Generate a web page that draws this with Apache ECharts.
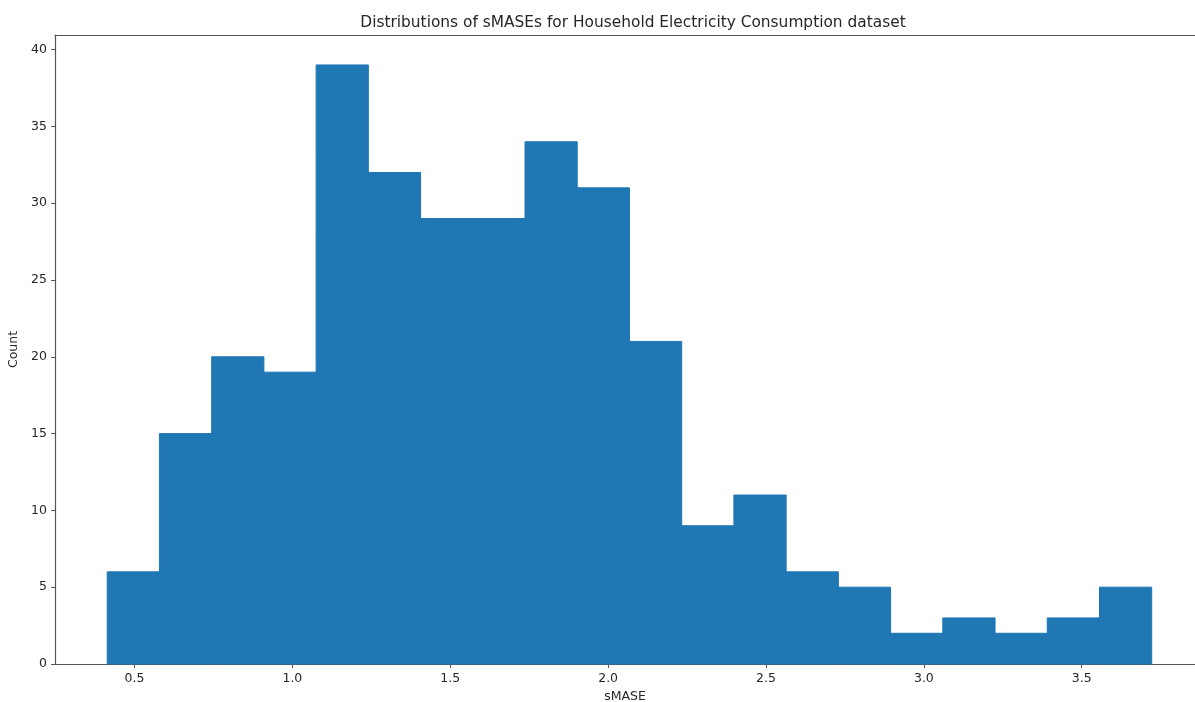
<!DOCTYPE html>
<html>
<head>
<meta charset="utf-8">
<script src="https://cdn.jsdelivr.net/npm/echarts@6/dist/echarts.min.js"></script>
<style>
  html, body { margin: 0; padding: 0; background: #fff; }
  #chart { width: 1195px; height: 702px; }
</style>
</head>
<body>
<div id="chart"></div>
<script>
// Histogram of sMASE values: 20 equal-width bins
const binStart = 0.4136;
const binWidth = 0.1654;
const counts = [6, 15, 20, 19, 39, 32, 29, 29, 34, 31, 21, 9, 11, 6, 5, 2, 3, 2, 3, 5];
const xTicks = [0.5, 1.0, 1.5, 2.0, 2.5, 3.0, 3.5];
const yTicks = [0, 5, 10, 15, 20, 25, 30, 35, 40];

const bins = counts.map((c, i) => [binStart + i * binWidth, binStart + (i + 1) * binWidth, c]);

const textColor = '#262626';
const spineColor = '#555';
const barColor = '#1f77b4';
const font = 'DejaVu Sans';

const chart = echarts.init(document.getElementById('chart'));
chart.setOption({
  animation: false,
  title: {
    text: 'Distributions of sMASEs for Household Electricity Consumption dataset',
    left: 628, top: 10, textAlign: 'center',
    textStyle: { fontFamily: font, fontSize: 15.4, fontWeight: 'normal', color: textColor }
  },
  grid: { left: 55, right: 0, top: 35, bottom: 38, outerBoundsMode: 'none', containLabel: false },
  xAxis: [{
    type: 'value', min: 0.2482, max: 3.8587,
    name: 'sMASE', nameLocation: 'middle', nameGap: 25,
    nameTextStyle: { fontFamily: font, fontSize: 12.5, color: textColor },
    axisLine: { show: true, onZero: false, lineStyle: { color: spineColor, width: 1.2 } },
    axisTick: { show: true, length: 4, customValues: xTicks, lineStyle: { color: spineColor } },
    axisLabel: {
      customValues: xTicks, margin: 8, fontFamily: font, fontSize: 12.5, color: textColor,
      formatter: v => v.toFixed(1)
    },
    splitLine: { show: false }
  }, {
    type: 'value', position: 'top', min: 0.2482, max: 3.8587,
    axisLine: { show: true, onZero: false, lineStyle: { color: spineColor, width: 1.2 } },
    axisTick: { show: false }, axisLabel: { show: false }, splitLine: { show: false }
  }],
  yAxis: {
    type: 'value', min: 0, max: 40.95,
    name: 'Count', nameLocation: 'middle', nameGap: 34,
    nameTextStyle: { fontFamily: font, fontSize: 12.5, color: textColor },
    axisLine: { show: true, lineStyle: { color: spineColor, width: 1.2 } },
    axisTick: { show: true, length: 4, customValues: yTicks, lineStyle: { color: spineColor } },
    axisLabel: { customValues: yTicks, margin: 8, fontFamily: font, fontSize: 12.5, color: textColor },
    splitLine: { show: false }
  },
  series: [{
    type: 'custom',
    xAxisIndex: 0,
    data: bins,
    encode: { x: [0, 1], y: 2 },
    renderItem: (params, api) => {
      const p0 = api.coord([api.value(0), api.value(2)]);
      const p1 = api.coord([api.value(1), 0]);
      return {
        type: 'rect',
        shape: { x: p0[0], y: p0[1], width: p1[0] - p0[0], height: p1[1] - p0[1] },
        style: { fill: barColor, stroke: barColor, lineWidth: 1 }
      };
    }
  }]
});
</script>
</body>
</html>
